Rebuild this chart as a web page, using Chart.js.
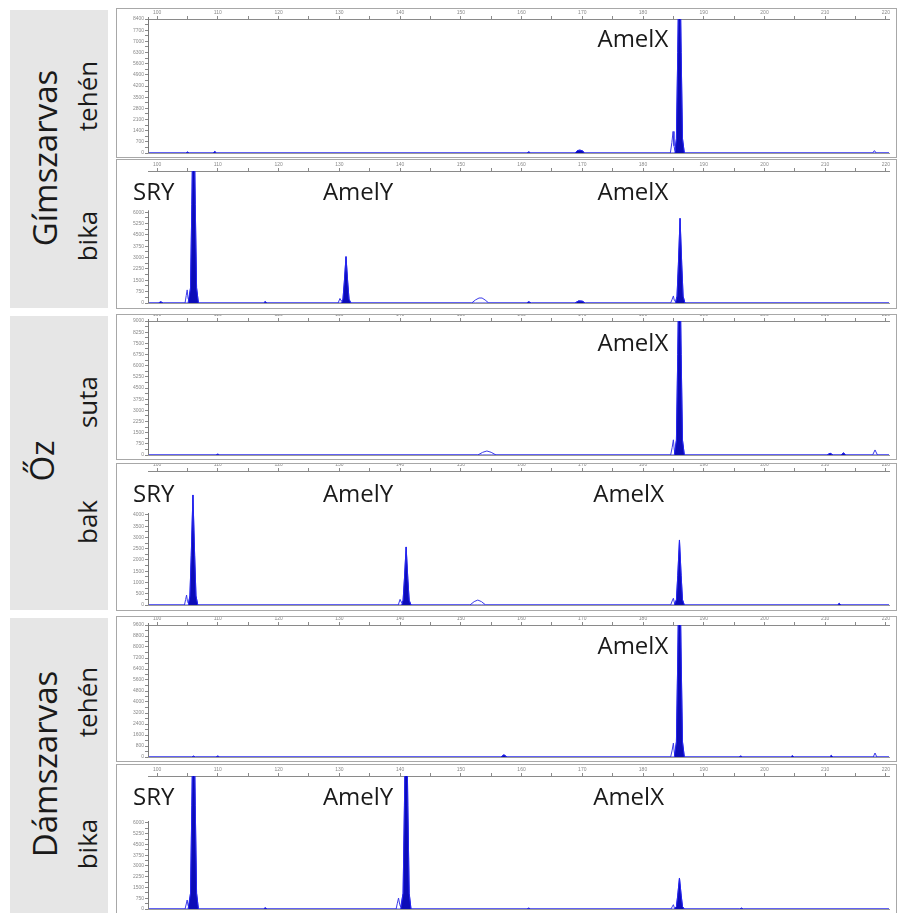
<!DOCTYPE html>
<html><head><meta charset="utf-8">
<script src="https://cdn.jsdelivr.net/npm/chart.js@4.4.0/dist/chart.umd.min.js"></script>
<style>
body{margin:0;background:#fff;width:898px;height:913px;overflow:hidden;position:relative;font-family:"Open Sans",sans-serif;}
.grp{position:absolute;left:10px;width:98px;background:#e6e6e6;}
.lab{position:absolute;white-space:nowrap;color:#1a1a1a;transform:translate(-50%,-50%) rotate(-90deg);line-height:1;}
.sp{font-size:33px;}
.sub{font-size:26px;}
canvas{position:absolute;outline:1px solid #a8a8a8;}
</style></head><body>
<div class="grp" style="top:10px;height:298px"></div>
<div class="grp" style="top:316px;height:294px"></div>
<div class="grp" style="top:618px;height:295px"></div>
<div class="lab sp" style="left:44px;top:158px">Gímszarvas</div>
<div class="lab sub" style="left:87px;top:96px">tehén</div>
<div class="lab sub" style="left:87px;top:236px">bika</div>
<div class="lab sp" style="left:41px;top:461px">Őz</div>
<div class="lab sub" style="left:87px;top:402px">suta</div>
<div class="lab sub" style="left:87px;top:522px">bak</div>
<div class="lab sp" style="left:44px;top:764px">Dámszarvas</div>
<div class="lab sub" style="left:87px;top:702px">tehén</div>
<div class="lab sub" style="left:87px;top:844px">bika</div>
<script>
// ---- DATA (fragment size in bp, signal in RFU) ----
const xTickLabels = [100,110,120,130,140,150,160,170,180,190,200,210,220];

// Gímszarvas tehén
const bp1  = [98.5,104.7,105.0,105.3,109.2,109.5,109.8,160.9,161.2,161.5,168.8,169.2,169.6,170.0,170.4,184.5,184.75,184.95,185.1,185.25,185.5,185.72,186.0,186.28,186.5,186.8,217.8,218.1,218.4,220.5];
const rfu1 = [0,0,60,0,0,90,0,0,70,0,0,150,180,140,0,0,650,1350,450,150,900,6300,14000,6300,900,0,0,150,0,0];
const bin1 = [0,0,60,0,0,90,0,0,70,0,0,150,180,140,0,0,0,0,0,0,900,6300,14000,6300,900,0,0,0,0,0];

// Gímszarvas bika
const bp2  = [98.5,100.2,100.6,101.0,104.6,104.8,104.95,105.1,105.25,105.5,105.72,106.0,106.28,106.5,106.8,117.5,117.8,118.1,129.8,130.1,130.35,130.6,130.82,131.1,131.38,131.6,131.9,151.8,152.4,153.0,153.5,154.0,154.6,160.8,161.2,161.6,168.8,169.4,170.0,170.5,184.55,184.8,185.0,185.15,185.35,185.6,185.82,186.1,186.38,186.6,186.9,220.5];
const rfu2 = [0,0,80,0,0,500,867,300,150,1000,6500,15000,6500,1000,0,0,90,0,0,300,120,250,1380,3070,1380,250,0,0,200,330,330,200,0,0,80,0,0,140,120,0,0,250,467,180,80,450,2520,5600,2520,450,0,0];
const bin2 = [0,0,80,0,0,0,0,0,0,1000,6500,15000,6500,1000,0,0,90,0,0,0,0,250,1380,3070,1380,250,0,0,0,0,0,0,0,0,80,0,0,140,120,0,0,0,0,0,0,450,2520,5600,2520,450,0,0];

// Őz suta
const bp3  = [98.5,109.7,110.0,110.3,152.8,153.6,154.3,155.0,155.8,184.55,184.8,185.0,185.15,185.25,185.5,185.72,186.0,186.28,186.5,186.8,210.3,210.8,211.3,212.6,213.0,213.4,217.8,218.2,218.6,220.5];
const rfu3 = [0,0,60,0,0,180,270,180,0,0,500,1020,350,150,1000,6750,15000,6750,1000,0,0,120,0,0,140,0,0,340,0,0];
const bin3 = [0,0,60,0,0,0,0,0,0,0,0,0,0,0,1000,6750,15000,6750,1000,0,0,120,0,0,140,0,0,0,0,0];

// Őz bak
const bp4  = [98.5,104.5,104.7,104.85,105.0,105.15,105.4,105.62,105.9,106.18,106.4,106.7,139.7,140.0,140.25,140.5,140.72,141.0,141.28,141.5,141.8,151.5,152.2,152.8,153.4,154.1,184.55,184.8,185.0,185.15,185.25,185.5,185.72,186.0,186.28,186.5,186.8,212.0,212.3,212.6,220.5];
const rfu4 = [0,0,250,444,150,80,400,2200,4890,2200,400,0,0,250,100,210,1160,2580,1160,210,0,0,150,220,150,0,0,180,300,120,60,230,1300,2890,1300,230,0,0,70,0,0];
const bin4 = [0,0,0,0,0,0,400,2200,4890,2200,400,0,0,0,0,210,1160,2580,1160,210,0,0,0,0,0,0,0,0,0,0,0,230,1300,2890,1300,230,0,0,70,0,0];

// Dámszarvas tehén
const bp5  = [98.5,105.7,106.0,106.3,109.7,110.0,110.3,156.6,157.1,157.6,184.55,184.8,185.0,185.15,185.25,185.5,185.72,186.0,186.28,186.5,186.8,195.8,196.1,196.4,204.3,204.6,204.9,210.7,211.0,211.3,217.9,218.2,218.5,220.5];
const rfu5 = [0,0,60,0,0,70,0,0,160,0,0,500,1010,350,150,1100,7200,16000,7200,1100,0,0,70,0,0,90,0,0,110,0,0,290,0,0];
const bin5 = [0,0,60,0,0,70,0,0,160,0,0,0,0,0,0,1100,7200,16000,7200,1100,0,0,70,0,0,90,0,0,110,0,0,0,0,0];

// Dámszarvas bika
const bp6  = [98.5,104.6,104.8,104.95,105.1,105.25,105.5,105.72,106.0,106.28,106.5,106.8,117.5,117.8,118.1,139.35,139.55,139.75,139.95,140.1,140.5,140.72,141.0,141.28,141.5,141.8,160.9,161.2,161.5,184.6,184.8,185.0,185.15,185.25,185.5,185.72,186.0,186.28,186.5,186.8,195.9,196.2,196.5,220.5];
const rfu6 = [0,0,350,628,250,120,1100,7200,16000,7200,1100,0,0,80,0,0,400,767,300,150,1100,7200,16000,7200,1100,0,0,60,0,0,150,300,100,50,170,970,2163,970,170,0,0,60,0,0];
const bin6 = [0,0,0,0,0,0,1100,7200,16000,7200,1100,0,0,80,0,0,0,0,0,0,1100,7200,16000,7200,1100,0,0,60,0,0,0,0,0,0,170,970,2163,970,170,0,0,60,0,0];

// y axis: scale top, highest labelled tick, label step (RFU)
const yMax      = [8400, 8733, 9000, 5955, 9600, 9279];
const yTickTop  = [8400, 6000, 9000, 4000, 9600, 6000];
const yTickStep = [700, 750, 750, 500, 800, 750];

// marker labels and the bp where each label starts
const markerText = [['AmelX'],['SRY','AmelY','AmelX'],['AmelX'],['SRY','AmelY','AmelX'],['AmelX'],['SRY','AmelY','AmelX']];
const markerBp   = [[172.5],[96.05,127.3,172.5],[172.5],[96.05,127.3,171.8],[172.5],[96.05,127.3,171.8]];

// ---- LAYOUT (pixels) ----
const boxes = [
  {top:9,   axis:19,  base:153, bottom:157, labelY:31},
  {top:160, axis:171, base:303, bottom:308, labelY:33},
  {top:315, axis:321, base:455, bottom:459, labelY:29},
  {top:464, axis:471, base:605, bottom:610, labelY:31},
  {top:617, axis:625, base:757, bottom:761, labelY:30},
  {top:765, axis:776, base:909, bottom:913, labelY:33}
];
const BOX_LEFT = 117, BOX_W = 779, Y_AXIS_W = 31, RIGHT_PAD = 7;
const X_MIN = 98.5, X_MAX = 220.5;

const traces = [[bp1,rfu1,bin1],[bp2,rfu2,bin2],[bp3,rfu3,bin3],[bp4,rfu4,bin4],[bp5,rfu5,bin5],[bp6,rfu6,bin6]];

const markerPlugin = {
  id:'markers',
  afterDraw(chart, args, opts){
    const ctx = chart.ctx, xs = chart.scales.x;
    ctx.save();
    ctx.font = '24px "Open Sans", sans-serif';
    ctx.fillStyle = '#1a1a1a';
    ctx.textBaseline = 'middle';
    ctx.textAlign = 'left';
    opts.texts.forEach((t,i)=>{
      ctx.fillText(t, xs.getPixelForValue(opts.bps[i]), opts.y);
    });
    ctx.restore();
  }
};
const yLinePlugin = {
  id:'yline',
  afterDatasetsDraw(chart, args, opts){
    const ctx = chart.ctx, ys = chart.scales.y, a = chart.chartArea;
    ctx.save();
    ctx.strokeStyle = '#7a7a7a'; ctx.lineWidth = 1;
    ctx.beginPath();
    ctx.moveTo(a.left+0.5, ys.getPixelForValue(0));
    ctx.lineTo(a.left+0.5, ys.getPixelForValue(opts.top) - 2);
    ctx.stroke();
    ctx.restore();
  }
};

boxes.forEach((b,i)=>{
  const cv = document.createElement('canvas');
  const h = b.bottom - b.top;
  cv.width = BOX_W; cv.height = h;
  cv.style.left = BOX_LEFT+'px'; cv.style.top = b.top+'px';
  cv.style.width = BOX_W+'px'; cv.style.height = h+'px';
  document.body.appendChild(cv);
  const [bp, rfu, bin] = traces[i];
  const step = yTickStep[i], top = yTickTop[i];
  new Chart(cv.getContext('2d'), {
    type:'line',
    data:{datasets:[
      {data: bp.map((x,k)=>({x, y: bin[k]})), borderColor:'#2424f0', backgroundColor:'#0c0cb8', borderWidth:1, fill:'origin', pointRadius:0, tension:0},
      {data: bp.map((x,k)=>({x, y: rfu[k]})), borderColor:'#3a3ae8', borderWidth:1, fill:false, pointRadius:0, tension:0}
    ]},
    options:{
      responsive:false, devicePixelRatio:1, animation:false,
      layout:{padding:{left:0,right:RIGHT_PAD,top:0,bottom:0}},
      plugins:{legend:{display:false}, tooltip:{enabled:false},
        markers:{texts:markerText[i], bps:markerBp[i], y:b.labelY},
        yline:{top: top}},
      scales:{
        x:{type:'linear', position:'top', min:X_MIN, max:X_MAX,
          afterBuildTicks(s){ const t=[]; for(let v=xTickLabels[0]; v<=xTickLabels[xTickLabels.length-1]; v+=5) t.push({value:v}); s.ticks=t; },
          afterFit(s){ s.height = b.axis - b.top; },
          ticks:{font:{size:5}, color:'#8a8a8a', padding:0, maxRotation:0, autoSkip:false,
            callback(v){ return xTickLabels.includes(v) ? String(v) : ''; }},
          grid:{drawOnChartArea:false, tickLength:3, color:'#8a8a8a'},
          border:{color:'#8a8a8a'}},
        x2:{type:'linear', position:'bottom', min:X_MIN, max:X_MAX,
          afterFit(s){ s.height = b.bottom - b.base; },
          ticks:{display:false}, grid:{display:false}, border:{display:true, color:'#9a9a9a'}},
        y:{type:'linear', position:'left', min:0, max:yMax[i],
          afterBuildTicks(s){ const t=[]; for(let v=0; v<=top+1e-6; v+=step/2) t.push({value:v}); s.ticks=t; },
          afterFit(s){ s.width = Y_AXIS_W; },
          ticks:{font:{size:5}, color:'#8a8a8a', padding:1, autoSkip:false,
            callback(v){ return (v % step === 0) ? String(v) : ''; }},
          grid:{drawOnChartArea:false, tickLength:3, color:'#8a8a8a'},
          border:{display:false}}
      }
    },
    plugins:[markerPlugin, yLinePlugin]
  });
});
</script>
</body></html>
